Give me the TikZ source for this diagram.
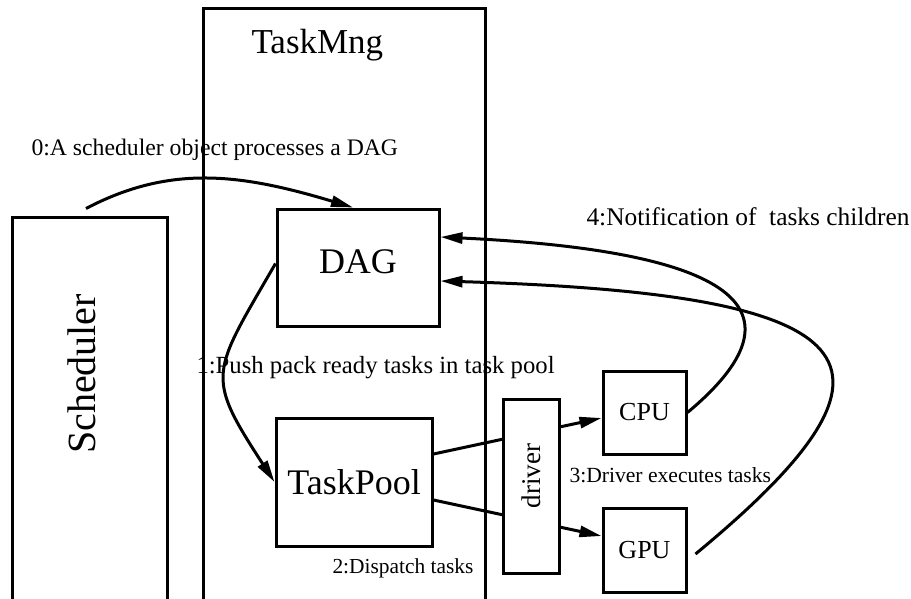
\documentclass[tikz,border=0pt]{standalone}
\usepackage{fontspec}
\setmainfont{Liberation Serif}
\usetikzlibrary{arrows.meta}

\begin{document}
\begin{tikzpicture}[x=1pt, y=-1pt, line width=3pt, >={Triangle[length=22pt,width=11pt]},
box/.style={draw, line width=3pt, inner sep=0pt},
big/.style={font=\fontsize{36}{40}\selectfont}, mid/.style={font=\fontsize{26}{30}\selectfont},
lbl/.style={inner sep=0pt, anchor=base west}]
\useasboundingbox (0,0) rectangle (911,598);
\clip (0,0) rectangle (911,598);
\node[box, minimum width=282, minimum height=642] (taskmng) at (344,329) {};
\node[lbl, font=\fontsize{35}{40}\selectfont] (mngtitle) at (250,53) {TaskMng};
\node[box, minimum width=155, minimum height=433] (sched) at (89.5,433.5) {};
\node[rotate=90, inner sep=0pt, font=\fontsize{40}{44}\selectfont] (schedtitle) at (82,374) {Scheduler};
\node[box, big, minimum width=162, minimum height=117, text depth=12pt] (DAG) at (358,267.5) {DAG};
\node[box, big, minimum width=156, minimum height=128] (TaskPool) at (354,482) {TaskPool};
\node[box, mid, minimum width=83, minimum height=83] (CPU) at (644.5,412.5) {CPU};
\node[box, mid, minimum width=83, minimum height=84] (GPU) at (644.5,550) {GPU};
\draw[->] ([yshift=28]TaskPool.east) -- ([yshift=-5.5]CPU.west); \draw[->] ([yshift=-18]TaskPool.east) -- ([yshift=14]GPU.west);
\node[box, fill=white, rotate=90, minimum width=174, minimum height=56, font=\fontsize{27}{30}\selectfont] (driver) at (531,486) {\hspace*{20pt}driver};
\draw[->] ([xshift=-3.5,yshift=7]sched.north) .. controls +(84,-44) and +(-113,-34) .. ([xshift=-5]DAG.north);
\draw[->] ([yshift=4]DAG.west) to[out=240, in=123, looseness=1.5] (TaskPool.west);
\draw[->] (CPU.east) .. controls +(134,-112) and +(271,13) .. ([yshift=30.5]DAG.east);
\draw[->] ([xshift=8,yshift=-4]GPU.east) .. controls +(235,-194) and +(431,13) .. ([yshift=-13.5]DAG.east);
\node[lbl, font=\fontsize{23.7}{26}\selectfont] (step0) at (30,155) {0:A scheduler object processes a DAG};
\node[lbl, font=\fontsize{24.7}{27}\selectfont] (step1) at (195,373) {1:Push pack ready tasks in task pool};
\node[lbl, font=\fontsize{21.4}{24}\selectfont] (step2) at (331,573) {2:Dispatch tasks};
\node[lbl, font=\fontsize{21.6}{24}\selectfont] (step3) at (568,482) {3:Driver executes tasks};
\node[lbl, font=\fontsize{25.4}{28}\selectfont] (step4) at (585,225) {4:Notification of\ \ tasks children};
\end{tikzpicture}
\end{document}
